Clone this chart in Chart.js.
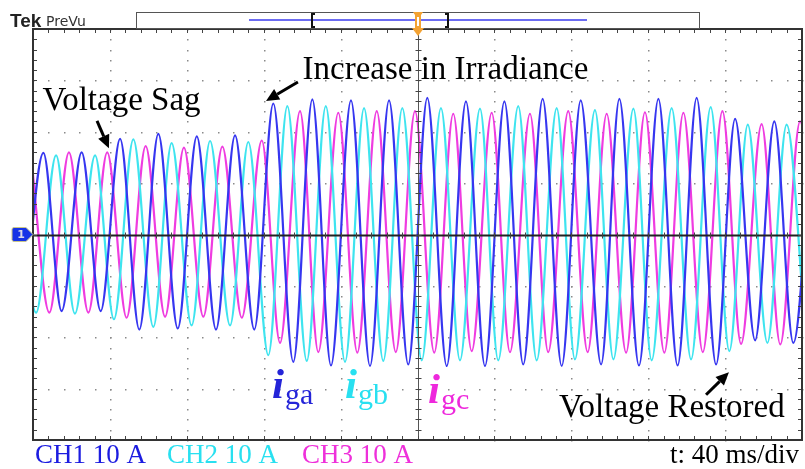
<!DOCTYPE html>
<html>
<head>
<meta charset="utf-8">
<script src="https://cdn.jsdelivr.net/npm/chart.js@4.4.0/dist/chart.umd.min.js"></script>
<style>
  body { margin: 0; background: #fff; }
  canvas { display: block; }
</style>
</head>
<body>
<canvas id="scope" width="805" height="469"></canvas>
<script>
// grid currents, one peak / one valley per half cycle: time in ms, current in A
var igaTopT = [5.4, 25.3, 45.3, 65.2, 85.2, 105.1, 125.0, 145.3, 165.4, 185.2, 205.1, 225.2, 245.2, 265.1, 284.9, 305.0, 325.3, 345.2, 365.2, 385.6, 405.6];
var igaTop  = [15.9, 16.0, 18.6, 19.6, 19.1, 19.3, 25.5, 26.3, 26.1, 26.1, 26.6, 25.9, 25.9, 26.4, 26.1, 26.4, 26.4, 26.6, 22.5, 22.0, 22.0];
var igaBotT = [-4.6, 14.9, 35.2, 55.3, 75.3, 95.2, 115.1, 135.4, 155.0, 175.3, 195.2, 215.2, 235.1, 255.0, 275.0, 295.5, 315.2, 335.3, 355.3, 375.6, 395.5];
var igaBot  = [-14.9, -14.9, -14.9, -18.5, -18.3, -18.5, -18.5, -24.8, -25.5, -25.6, -25.3, -25.6, -25.6, -25.3, -25.6, -25.3, -25.5, -25.5, -25.3, -20.6, -21.1];

var igbTopT = [-8.4, 12.0, 32.3, 52.2, 72.1, 92.1, 112.0, 132.3, 152.3, 172.2, 192.1, 212.2, 232.5, 252.4, 272.4, 292.3, 312.3, 332.2, 352.5, 371.8, 392.0];
var igbTop  = [15.4, 15.4, 15.4, 18.5, 17.8, 18.2, 18.0, 25.0, 25.0, 24.6, 24.6, 24.6, 24.5, 25.0, 24.6, 24.2, 24.5, 24.6, 24.8, 21.4, 21.4];
var igbBotT = [1.6, 21.8, 42.1, 62.6, 82.5, 102.5, 122.4, 142.4, 162.3, 182.2, 202.2, 222.1, 242.0, 262.0, 281.9, 301.9, 321.8, 342.3, 362.2, 382.0, 402.1];
var igbBot  = [-15.2, -15.4, -16.5, -18.0, -17.7, -17.7, -23.5, -24.6, -24.8, -24.6, -24.5, -24.5, -24.5, -24.5, -24.3, -24.3, -24.5, -24.3, -22.7, -21.1, -21.0];

var igcTopT = [-1.2, 18.7, 38.6, 58.6, 78.5, 98.5, 119.0, 138.9, 158.8, 178.8, 198.7, 218.6, 238.6, 258.5, 278.4, 298.4, 318.3, 338.3, 358.6, 379.0, 399.0];
var igcTop  = [16.0, 16.0, 16.0, 17.2, 16.9, 17.1, 18.3, 24.0, 23.7, 24.0, 24.0, 23.5, 23.7, 23.5, 24.0, 23.5, 23.8, 23.7, 24.0, 21.5, 22.0];
var igcBotT = [8.5, 28.8, 48.7, 68.7, 88.6, 108.6, 128.5, 148.4, 168.7, 188.7, 208.7, 228.2, 248.1, 268.0, 288.5, 308.5, 328.4, 348.4, 368.3, 388.7, 408.7];
var igcBot  = [-15.2, -15.2, -16.2, -16.0, -16.0, -16.2, -21.1, -22.9, -23.0, -22.9, -23.0, -22.7, -22.9, -22.9, -22.9, -23.0, -23.0, -22.9, -21.3, -21.4, -21.4];

// scope settings: 10 divisions of 40 ms, 8 divisions of 10 A
var timeDiv = 40, ampDiv = 10;
var channelLabels = ['CH1 10 A', 'CH2 10 A', 'CH3 10 A'];
var timebaseLabel = 't: 40 ms/div';

var BLUE = '#3636f0', CYAN = '#3ee4ef', MAGENTA = '#ef3ce0';

// annotations, placed in ms / A
var notes = [
  { text: 'Voltage Sag', t: 5.0, a: 24.2 },
  { text: 'Increase in Irradiance', t: 140.2, a: 30.3 },
  { text: 'Voltage Restored', t: 273.6, a: -35.5 }
];
var arrows = [
  [33.3, 22.1, 39.5, 16.8],
  [137.8, 29.7, 121.2, 26.0],
  [350.1, -31.2, 362.0, -26.8]
];
var phaseTags = [
  { sub: 'ga', color: '#2424d8', t: 124.3, a: -31.8 },
  { sub: 'gb', color: '#28e0f0', t: 162.3, a: -31.8 },
  { sub: 'gc', color: '#ee28dc', t: 205.5, a: -32.8 }
];

function trace(topT, top, botT, bot) {
  var pts = [];
  for (var i = 0; i < topT.length; i++) pts.push({ x: topT[i], y: top[i] });
  for (var j = 0; j < botT.length; j++) pts.push({ x: botT[j], y: bot[j] });
  pts.sort(function (p, q) { return p.x - q.x; });
  return pts;
}

function arrow(ctx, x1, y1, x2, y2) {
  var ang = Math.atan2(y2 - y1, x2 - x1);
  var hl = 13, hw = 6;
  var bx = x2 - hl * Math.cos(ang), by = y2 - hl * Math.sin(ang);
  ctx.strokeStyle = '#000';
  ctx.lineWidth = 3;
  ctx.beginPath();
  ctx.moveTo(x1, y1);
  ctx.lineTo(bx, by);
  ctx.stroke();
  ctx.fillStyle = '#000';
  ctx.beginPath();
  ctx.moveTo(x2, y2);
  ctx.lineTo(bx + hw * Math.sin(ang), by - hw * Math.cos(ang));
  ctx.lineTo(bx - hw * Math.sin(ang), by + hw * Math.cos(ang));
  ctx.closePath();
  ctx.fill();
}

var screenPlugin = {
  id: 'screen',
  // dotted graticule under the traces
  beforeDatasetsDraw: function (chart) {
    var ctx = chart.ctx, xs = chart.scales.x, ys = chart.scales.y;
    ctx.save();
    ctx.fillStyle = '#8a8a8a';
    for (var k = 1; k < 10; k++) {
      if (k == 5) continue;
      var px = Math.round(xs.getPixelForValue(k * timeDiv));
      for (var v = -40; v <= 40; v += ampDiv / 5) {
        ctx.fillRect(px, Math.round(ys.getPixelForValue(v)), 1.5, 1.5);
      }
    }
    for (var m = -3; m <= 3; m++) {
      if (m == 0) continue;
      var py = Math.round(ys.getPixelForValue(m * ampDiv));
      for (var t = 0; t <= 400; t += timeDiv / 5) {
        ctx.fillRect(Math.round(xs.getPixelForValue(t)), py, 1.5, 1.5);
      }
    }
    ctx.restore();
  },
  afterDatasetsDraw: function (chart) {
    var ctx = chart.ctx, xs = chart.scales.x, ys = chart.scales.y;
    var a = chart.chartArea;
    var cx = Math.round(xs.getPixelForValue(200)) + 0.5;
    var cy = Math.round(ys.getPixelForValue(0)) + 0.5;
    ctx.save();
    // center cross with minor ticks
    ctx.strokeStyle = '#555';
    ctx.lineWidth = 1;
    ctx.beginPath();
    ctx.moveTo(cx, a.top); ctx.lineTo(cx, a.bottom);
    ctx.stroke();
    ctx.strokeStyle = '#222';
    ctx.lineWidth = 2;
    ctx.beginPath();
    ctx.moveTo(a.left, cy); ctx.lineTo(a.right, cy);
    ctx.stroke();
    ctx.lineWidth = 1;
    ctx.strokeStyle = '#444';
    ctx.beginPath();
    for (var t = 0; t <= 400; t += timeDiv / 5) {
      var px = Math.round(xs.getPixelForValue(t)) + 0.5;
      ctx.moveTo(px, cy - 3); ctx.lineTo(px, cy + 3);
      ctx.moveTo(px, a.top); ctx.lineTo(px, a.top + 4);
      ctx.moveTo(px, a.bottom); ctx.lineTo(px, a.bottom - 4);
    }
    for (var v = -40; v <= 40; v += ampDiv / 5) {
      var py = Math.round(ys.getPixelForValue(v)) + 0.5;
      ctx.moveTo(cx - 3, py); ctx.lineTo(cx + 3, py);
      ctx.moveTo(a.left, py); ctx.lineTo(a.left + 4, py);
      ctx.moveTo(a.right, py); ctx.lineTo(a.right - 4, py);
    }
    ctx.stroke();
    // screen border
    ctx.strokeStyle = '#333';
    ctx.lineWidth = 2;
    ctx.strokeRect(a.left, a.top, a.right - a.left, a.bottom - a.top);
    ctx.restore();
  },
  afterDraw: function (chart) {
    var ctx = chart.ctx, xs = chart.scales.x, ys = chart.scales.y;
    ctx.save();

    // header: logo and record bar
    ctx.fillStyle = '#222';
    ctx.font = 'bold 19px "Liberation Sans", Arial, sans-serif';
    ctx.textBaseline = 'alphabetic';
    ctx.fillText('Tek', 10, 27);
    ctx.fillStyle = '#333';
    ctx.font = '14px "DejaVu Sans", sans-serif';
    ctx.fillText('PreVu', 46, 26);

    ctx.fillStyle = '#fff';
    ctx.fillRect(136.5, 12.5, 563, 16);
    ctx.strokeStyle = '#555';
    ctx.lineWidth = 1;
    ctx.strokeRect(136.5, 12.5, 563, 16);
    ctx.strokeStyle = '#6c6cf2';
    ctx.lineWidth = 2;
    ctx.beginPath();
    ctx.moveTo(249, 20); ctx.lineTo(587, 20);
    ctx.stroke();
    ctx.strokeStyle = '#111';
    ctx.lineWidth = 2;
    ctx.beginPath();
    ctx.moveTo(315, 14); ctx.lineTo(312, 14); ctx.lineTo(312, 27); ctx.lineTo(315, 27);
    ctx.moveTo(445, 14); ctx.lineTo(448, 14); ctx.lineTo(448, 27); ctx.lineTo(445, 27);
    ctx.stroke();
    // trigger marker
    ctx.fillStyle = '#f3a233';
    ctx.beginPath();
    ctx.moveTo(413, 12); ctx.lineTo(423, 12); ctx.lineTo(421, 15);
    ctx.lineTo(421, 28); ctx.lineTo(424, 28); ctx.lineTo(418, 36);
    ctx.lineTo(412, 28); ctx.lineTo(415, 28); ctx.lineTo(415, 15);
    ctx.closePath();
    ctx.fill();
    ctx.fillStyle = '#fff';
    ctx.fillRect(417, 17, 2, 9);

    // channel 1 ground marker
    var gy = ys.getPixelForValue(0);
    ctx.fillStyle = '#1633e6';
    ctx.strokeStyle = '#c9c58a';
    ctx.lineWidth = 1;
    ctx.beginPath();
    ctx.moveTo(14, gy - 7); ctx.lineTo(26, gy - 7); ctx.lineTo(33, gy);
    ctx.lineTo(26, gy + 7); ctx.lineTo(14, gy + 7);
    ctx.quadraticCurveTo(12, gy + 7, 12, gy + 5);
    ctx.lineTo(12, gy - 5);
    ctx.quadraticCurveTo(12, gy - 7, 14, gy - 7);
    ctx.closePath();
    ctx.fill();
    ctx.stroke();
    ctx.fillStyle = '#d8d8e8';
    ctx.font = 'bold 11px "DejaVu Sans", sans-serif';
    ctx.textAlign = 'center';
    ctx.textBaseline = 'middle';
    ctx.fillText('1', 21, gy + 0.5);

    // channel scales and timebase
    ctx.textAlign = 'left';
    ctx.textBaseline = 'alphabetic';
    ctx.font = '27px "Liberation Serif", "Times New Roman", serif';
    var chX = [35, 167, 302], chC = ['#1c1ce0', '#28e0f0', '#ee30da'];
    for (var i = 0; i < channelLabels.length; i++) {
      ctx.fillStyle = chC[i];
      ctx.fillText(channelLabels[i], chX[i], 463);
    }
    ctx.fillStyle = '#000';
    ctx.textAlign = 'right';
    ctx.fillText(timebaseLabel, 799, 463);

    // annotations
    ctx.textAlign = 'left';
    ctx.font = '33px "Liberation Serif", "Times New Roman", serif';
    notes.forEach(function (n) {
      ctx.fillStyle = '#000';
      ctx.fillText(n.text, xs.getPixelForValue(n.t), ys.getPixelForValue(n.a));
    });
    arrows.forEach(function (r) {
      arrow(ctx, xs.getPixelForValue(r[0]), ys.getPixelForValue(r[1]),
        xs.getPixelForValue(r[2]), ys.getPixelForValue(r[3]));
    });
    phaseTags.forEach(function (p) {
      var x = xs.getPixelForValue(p.t), y = ys.getPixelForValue(p.a);
      ctx.fillStyle = p.color;
      ctx.font = 'italic bold 43px "Liberation Serif", "Times New Roman", serif';
      ctx.fillText('i', x, y);
      var w = ctx.measureText('i').width;
      ctx.font = '30px "Liberation Serif", "Times New Roman", serif';
      ctx.fillText(p.sub, x + w + 1, y + 6);
    });
    ctx.restore();
  }
};

var ctx = document.getElementById('scope').getContext('2d');
var chart = new Chart(ctx, {
  type: 'line',
  data: {
    datasets: [
      { label: 'iga', data: trace(igaTopT, igaTop, igaBotT, igaBot), borderColor: BLUE },
      { label: 'igb', data: trace(igbTopT, igbTop, igbBotT, igbBot), borderColor: CYAN },
      { label: 'igc', data: trace(igcTopT, igcTop, igcBotT, igcBot), borderColor: MAGENTA }
    ]
  },
  options: {
    responsive: false,
    animation: false,
    events: [],
    layout: { padding: { left: 33, right: 3, top: 29, bottom: 29 } },
    elements: {
      line: { borderWidth: 2.2, cubicInterpolationMode: 'monotone', fill: false },
      point: { radius: 0 }
    },
    scales: {
      x: { type: 'linear', min: 0, max: 10 * timeDiv, display: false },
      y: { type: 'linear', min: -4 * ampDiv, max: 4 * ampDiv, display: false }
    },
    plugins: { legend: { display: false }, tooltip: { enabled: false } }
  },
  plugins: [screenPlugin]
});
</script>
</body>
</html>
